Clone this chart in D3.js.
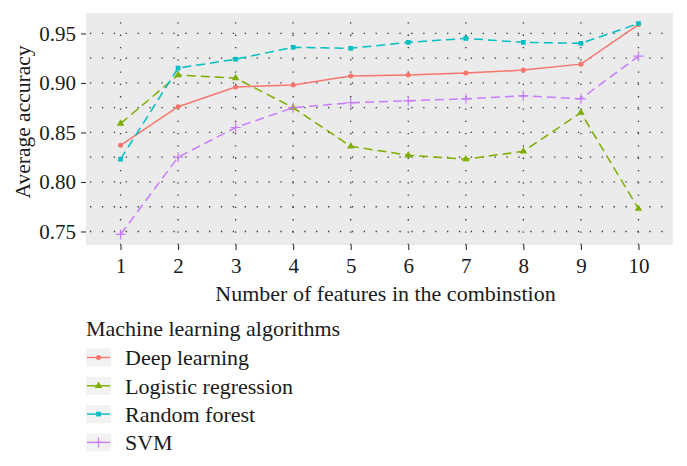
<!DOCTYPE html>
<html>
<head>
<meta charset="utf-8">
<script src="https://cdnjs.cloudflare.com/ajax/libs/d3/7.8.5/d3.min.js"></script>
<style>
  body { margin: 0; background: #fff; }
  text { font-family: "Liberation Serif", "DejaVu Serif", serif; fill: #1a1a1a; }
</style>
</head>
<body>
<div class="chart-container"></div>
<script>
// data
const features = [1, 2, 3, 4, 5, 6, 7, 8, 9, 10];
const deepLearning = [0.837, 0.876, 0.896, 0.898, 0.907, 0.908, 0.910, 0.913, 0.919, 0.959];
const logisticRegression = [0.859, 0.908, 0.905, 0.875, 0.836, 0.827, 0.823, 0.831, 0.870, 0.773];
const randomForest = [0.823, 0.915, 0.924, 0.936, 0.935, 0.941, 0.945, 0.941, 0.940, 0.960];
const svm = [0.747, 0.825, 0.855, 0.875, 0.880, 0.882, 0.884, 0.887, 0.884, 0.927];
const yTicks = [0.75, 0.80, 0.85, 0.90, 0.95];
const yMinorTicks = [0.775, 0.825, 0.875, 0.925];

const seriesNames = ['Deep learning', 'Logistic regression', 'Random forest', 'SVM'];
const seriesValues = [deepLearning, logisticRegression, randomForest, svm];
const colors = ['#F8766D', '#7CAE00', '#00BFC4', '#C77CFF'];
const dashes = ['none', '9,5', '9,5', '9,5'];
const shapes = [d3.symbolCircle, d3.symbolTriangle, d3.symbolSquare, d3.symbolCross];

const series = seriesNames.map((name, i) => ({
    name,
    color: colors[i],
    dash: dashes[i],
    shape: shapes[i],
    values: features.map((f, j) => ({ x: f, y: seriesValues[i][j] }))
}));

const width = 687, height = 466;
const panel = { left: 86, right: 673, top: 13, bottom: 245 };

const svg = d3.select('.chart-container')
    .append('svg')
    .attr('width', width)
    .attr('height', height);

// scales (discrete x with 0.6 expansion, continuous y with 5%)
const xScale = d3.scaleLinear()
    .domain([0.4, 10.6])
    .range([panel.left, panel.right]);

const yExtent = d3.extent(seriesValues.flat());
const yPad = (yExtent[1] - yExtent[0]) * 0.05;
const yScale = d3.scaleLinear()
    .domain([yExtent[0] - yPad, yExtent[1] + yPad])
    .range([panel.bottom, panel.top]);

// panel background
svg.append('rect')
    .attr('x', panel.left)
    .attr('y', panel.top)
    .attr('width', panel.right - panel.left)
    .attr('height', panel.bottom - panel.top)
    .attr('fill', '#EBEBEB');

// grid (dotted, major + minor horizontal, major vertical)
const grid = svg.append('g').attr('class', 'grid');
grid.selectAll('.hgrid')
    .data(yTicks.concat(yMinorTicks))
    .enter()
    .append('line')
    .attr('x1', panel.left + 4)
    .attr('x2', panel.right)
    .attr('y1', d => yScale(d))
    .attr('y2', d => yScale(d))
    .attr('stroke', '#333')
    .attr('stroke-width', 1.3)
    .attr('stroke-dasharray', '1.3,10.6');

grid.selectAll('.vgrid')
    .data(features)
    .enter()
    .append('line')
    .attr('x1', d => xScale(d))
    .attr('x2', d => xScale(d))
    .attr('y1', panel.bottom)
    .attr('y2', panel.top + 4)
    .attr('stroke', '#333')
    .attr('stroke-width', 1.3)
    .attr('stroke-dasharray', '1.3,11');

function markerPath(shape) {
    if (shape === d3.symbolCross) return 'M-5,0H5M0,-5V5';
    if (shape === d3.symbolSquare) return d3.symbol().type(shape).size(22)();
    if (shape === d3.symbolTriangle) return d3.symbol().type(shape).size(24)();
    return d3.symbol().type(shape).size(20)();
}

// lines + points
const line = d3.line()
    .x(d => xScale(d.x))
    .y(d => yScale(d.y));

const lines = svg.append('g').attr('class', 'lines');
series.forEach(s => {
    const isCross = s.shape === d3.symbolCross;
    lines.append('path')
        .datum(s.values)
        .attr('d', line)
        .attr('fill', 'none')
        .attr('stroke', s.color)
        .attr('stroke-width', 1.5)
        .attr('stroke-dasharray', s.dash);

    lines.selectAll(null)
        .data(s.values)
        .enter()
        .append('path')
        .attr('transform', d => `translate(${xScale(d.x)}, ${yScale(d.y)})`)
        .attr('d', markerPath(s.shape))
        .attr('fill', isCross ? 'none' : s.color)
        .attr('stroke', isCross ? s.color : 'none')
        .attr('stroke-width', 1.2);
});

// axes
const xAxis = d3.axisBottom(xScale)
    .tickValues(features)
    .tickSize(5)
    .tickSizeOuter(0)
    .tickPadding(8);

const xAxisDraw = svg.append('g')
    .attr('class', 'x axis')
    .attr('transform', `translate(0, ${panel.bottom})`)
    .call(xAxis);

const yAxis = d3.axisLeft(yScale)
    .tickValues(yTicks)
    .tickFormat(d3.format('.2f'))
    .tickSize(5)
    .tickSizeOuter(0)
    .tickPadding(5);

const yAxisDraw = svg.append('g')
    .attr('class', 'y axis')
    .attr('transform', `translate(${panel.left}, 0)`)
    .call(yAxis);

[xAxisDraw, yAxisDraw].forEach(a => {
    a.select('.domain').remove();
    a.selectAll('.tick line').attr('stroke', '#333').attr('stroke-width', 1.1);
    a.selectAll('.tick text')
        .attr('fill', '#1a1a1a')
        .style('font-family', '"Liberation Serif", serif')
        .style('font-size', '21px');
});

// axis titles
svg.append('text')
    .attr('x', (panel.left + panel.right) / 2 + 6)
    .attr('y', 301)
    .attr('text-anchor', 'middle')
    .style('font-size', '22px')
    .text('Number of features in the combinstion');

svg.append('text')
    .attr('transform', `translate(30, 122) rotate(-90)`)
    .attr('text-anchor', 'middle')
    .style('font-size', '21.5px')
    .text('Average accuracy');

// legend
const legend = svg.append('g')
    .attr('class', 'legend')
    .attr('transform', `translate(${panel.left}, 0)`);

legend.append('text')
    .attr('x', 0)
    .attr('y', 336)
    .style('font-size', '22px')
    .text('Machine learning algorithms');

const legendRows = legend.selectAll('.legend-row')
    .data(series)
    .enter()
    .append('g')
    .attr('class', 'legend-row')
    .attr('transform', (d, i) => `translate(0, ${357.5 + i * 28.3})`);

legendRows.append('rect')
    .attr('x', 0)
    .attr('y', -9)
    .attr('width', 25)
    .attr('height', 18)
    .attr('fill', '#F2F2F2');

legendRows.append('line')
    .attr('x1', 1)
    .attr('x2', 24)
    .attr('stroke', d => d.color)
    .attr('stroke-width', 1.4);

legendRows.append('path')
    .attr('transform', 'translate(12.5, 0)')
    .attr('d', d => markerPath(d.shape))
    .attr('fill', d => d.shape === d3.symbolCross ? 'none' : d.color)
    .attr('stroke', d => d.shape === d3.symbolCross ? d.color : 'none')
    .attr('stroke-width', 1.2);

legendRows.append('text')
    .attr('x', 39)
    .attr('dy', '0.35em')
    .style('font-size', '22px')
    .text(d => d.name);
</script>
</body>
</html>
